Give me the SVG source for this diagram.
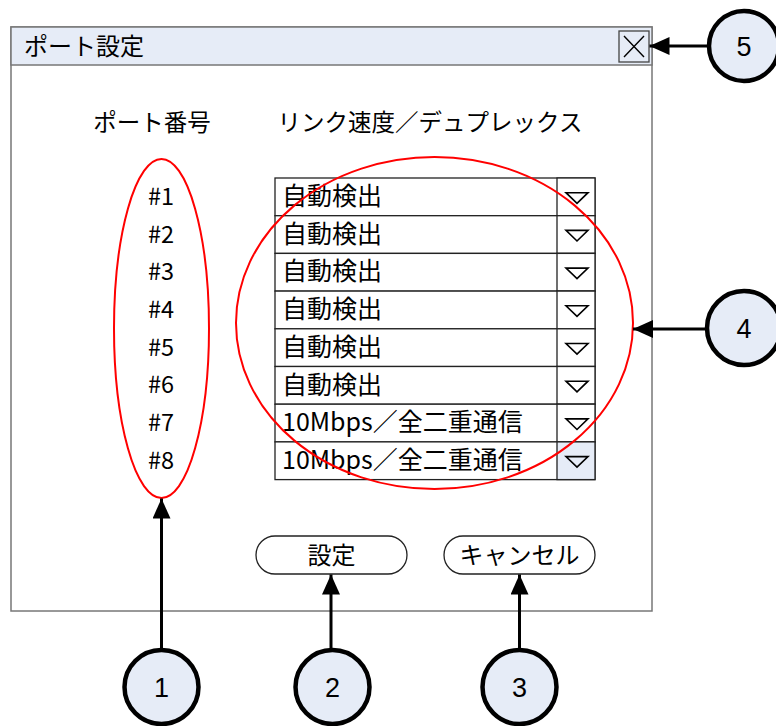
<svg xmlns="http://www.w3.org/2000/svg" width="776" height="726" viewBox="0 0 776 726">
<defs>
<style>
.jp{font-family:"Noto Sans CJK JP","Noto Sans",sans-serif;fill:#000}
.num{font-family:"Liberation Sans",Arial,sans-serif;font-size:27px;fill:#000;text-anchor:middle}
.row{fill:#fff;stroke:#222;stroke-width:1.3}
.btn{fill:#fff;stroke:#222;stroke-width:1.3}
.tri{fill:#fff;stroke:#000;stroke-width:1.6}
.callout{fill:#E6ECF7;stroke:#000;stroke-width:4.5}
.conn{stroke:#000;stroke-width:3;fill:none}
.red{fill:none;stroke:#F00;stroke-width:2}
</style>
<marker id="ah" viewBox="0 0 20 18" refX="20" refY="9" markerWidth="20" markerHeight="18" markerUnits="userSpaceOnUse" orient="auto">
<path d="M0,0 L20,9 L0,18 Z" fill="#000"/>
</marker>
</defs>

<g id="window">
<rect x="11" y="27" width="641" height="584" fill="#fff" stroke="#777" stroke-width="1.5"/>
<rect x="11" y="27" width="641" height="38" fill="#E6ECF7" stroke="#777" stroke-width="1.5"/>
<text class="jp" x="24" y="55" font-size="24">ポート設定</text>
</g>

<g id="close-button">
<rect x="619" y="31" width="30" height="31" fill="#E6ECF7" stroke="#444" stroke-width="1.3"/>
<path d="M624,36 L644,57 M644,36 L624,57" stroke="#000" stroke-width="1.4"/>
</g>

<g id="headers">
<text class="jp" x="152" y="131" font-size="23.5" text-anchor="middle">ポート番号</text>
<text class="jp" x="430" y="131" font-size="23.5" text-anchor="middle">リンク速度／デュプレックス</text>
</g>

<g id="port-numbers" class="jp" font-size="23.5" text-anchor="middle">
<text x="161" y="205">#1</text>
<text x="161" y="243">#2</text>
<text x="161" y="280">#3</text>
<text x="161" y="318">#4</text>
<text x="161" y="356">#5</text>
<text x="161" y="393">#6</text>
<text x="161" y="431">#7</text>
<text x="161" y="469">#8</text>
</g>

<g id="dropdowns">
<g id="dd1"><rect class="row" x="275" y="178" width="320" height="37.7"/><rect class="btn" x="557" y="178" width="38" height="37.7"/><path class="tri" d="M566,192.7 L588,192.7 L577,203.3 Z"/><text class="jp" x="282" y="205" font-size="25">自動検出</text></g>
<g id="dd2"><rect class="row" x="275" y="215.7" width="320" height="37.7"/><rect class="btn" x="557" y="215.7" width="38" height="37.7"/><path class="tri" d="M566,230.4 L588,230.4 L577,241 Z"/><text class="jp" x="282" y="242.7" font-size="25">自動検出</text></g>
<g id="dd3"><rect class="row" x="275" y="253.4" width="320" height="37.7"/><rect class="btn" x="557" y="253.4" width="38" height="37.7"/><path class="tri" d="M566,268.1 L588,268.1 L577,278.7 Z"/><text class="jp" x="282" y="280.4" font-size="25">自動検出</text></g>
<g id="dd4"><rect class="row" x="275" y="291.1" width="320" height="37.7"/><rect class="btn" x="557" y="291.1" width="38" height="37.7"/><path class="tri" d="M566,305.8 L588,305.8 L577,316.4 Z"/><text class="jp" x="282" y="318.1" font-size="25">自動検出</text></g>
<g id="dd5"><rect class="row" x="275" y="328.8" width="320" height="37.7"/><rect class="btn" x="557" y="328.8" width="38" height="37.7"/><path class="tri" d="M566,343.5 L588,343.5 L577,354.1 Z"/><text class="jp" x="282" y="355.8" font-size="25">自動検出</text></g>
<g id="dd6"><rect class="row" x="275" y="366.5" width="320" height="37.7"/><rect class="btn" x="557" y="366.5" width="38" height="37.7"/><path class="tri" d="M566,381.2 L588,381.2 L577,391.8 Z"/><text class="jp" x="282" y="393.5" font-size="25">自動検出</text></g>
<g id="dd7"><rect class="row" x="275" y="404.2" width="320" height="37.7"/><rect class="btn" x="557" y="404.2" width="38" height="37.7"/><path class="tri" d="M566,418.9 L588,418.9 L577,429.5 Z"/><text class="jp" x="282" y="431.2" font-size="25">10Mbps／全二重通信</text></g>
<g id="dd8"><rect class="row" x="275" y="441.9" width="320" height="37.7"/><rect class="btn" x="557" y="441.9" width="38" height="37.7" style="fill:#E6ECF7"/><path class="tri" d="M566,456.6 L588,456.6 L577,467.2 Z" style="fill:#E6ECF7"/><text class="jp" x="282" y="468.9" font-size="25">10Mbps／全二重通信</text></g>
</g>

<g id="set-button">
<rect x="256" y="536" width="151" height="38" rx="19" ry="19" fill="#fff" stroke="#222" stroke-width="1.3"/>
<text class="jp" x="331.5" y="564" font-size="24" text-anchor="middle">設定</text>
</g>
<g id="cancel-button">
<rect x="444" y="536" width="151" height="38" rx="19" ry="19" fill="#fff" stroke="#222" stroke-width="1.3"/>
<text class="jp" x="519.5" y="564" font-size="24" text-anchor="middle">キャンセル</text>
</g>

<g id="highlights">
<ellipse id="ports-highlight" class="red" cx="161.5" cy="328.5" rx="47.5" ry="169.5"/>
<ellipse id="speed-highlight" class="red" cx="434.5" cy="323" rx="198.5" ry="166"/>
</g>

<g id="connectors">
<line class="conn" x1="161.5" y1="649" x2="161.5" y2="498.5" marker-end="url(#ah)"/>
<line class="conn" x1="331" y1="649" x2="331" y2="574.5" marker-end="url(#ah)"/>
<line class="conn" x1="519.5" y1="649" x2="519.5" y2="574.5" marker-end="url(#ah)"/>
<line class="conn" x1="707" y1="329" x2="633" y2="329" marker-end="url(#ah)"/>
<line class="conn" x1="707" y1="46" x2="649.5" y2="46" marker-end="url(#ah)"/>
</g>

<g id="callout-1"><circle class="callout" cx="161.5" cy="687" r="37"/><text class="num" x="161.5" y="697">1</text></g>
<g id="callout-2"><circle class="callout" cx="332.5" cy="687" r="37"/><text class="num" x="332.5" y="697">2</text></g>
<g id="callout-3"><circle class="callout" cx="519.5" cy="687" r="37"/><text class="num" x="519.5" y="697">3</text></g>
<g id="callout-4"><circle class="callout" cx="744" cy="328" r="37"/><text class="num" x="744" y="338">4</text></g>
<g id="callout-5"><circle class="callout" cx="744" cy="46" r="35"/><text class="num" x="744" y="56">5</text></g>
</svg>
